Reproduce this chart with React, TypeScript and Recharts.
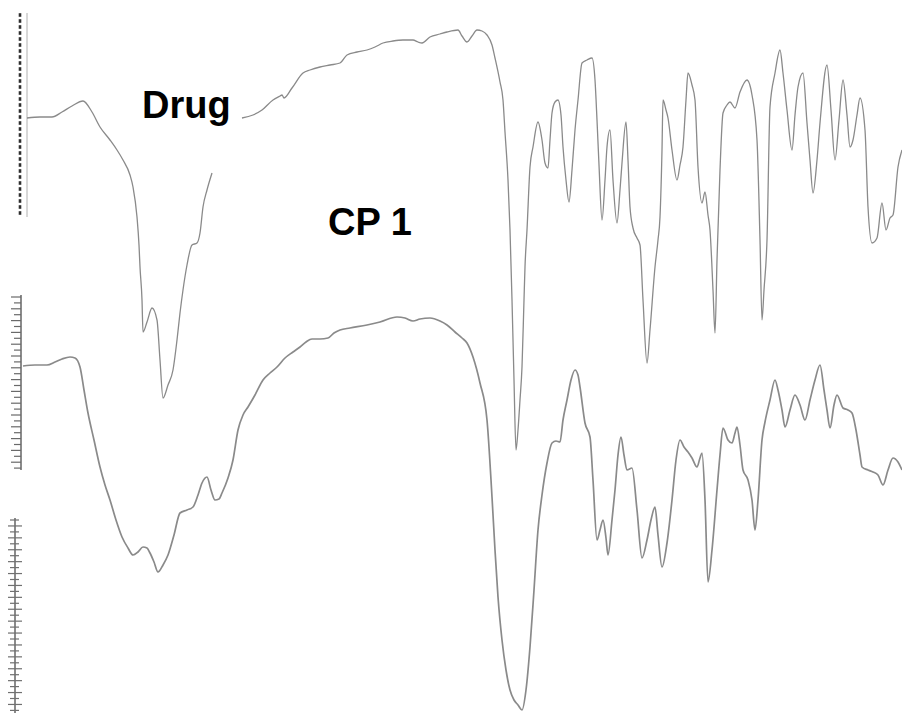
import React from 'react';
import { ComposedChart, Line, Scatter, XAxis, YAxis, ReferenceLine } from 'recharts';

// Drug spectrum (position along scan, signal depth; larger signal = lower on page)
const drugPos = [27, 40, 52, 62, 72, 83, 92, 100, 110, 117, 123, 130, 133, 137, 139, 140, 142, 143, 147, 152, 157, 160, 163, 168, 173, 177, 180, 183, 187, 192, 197, 200, 203, 207, 212,
  227,
  242, 253, 262, 273, 280, 282, 284, 292, 303, 310, 320, 330, 340, 347, 357, 367, 375, 383, 393, 403, 413, 418, 422, 430, 440, 447, 458, 462, 467, 472, 477, 482, 487, 492, 495, 500, 503, 505, 508, 510, 512, 514, 516, 518, 520, 522, 524, 525, 527, 530, 533, 538, 542, 545, 548, 550, 552, 555, 558, 561, 563, 566, 569, 572, 575, 578, 582, 587, 592, 595, 597, 599, 602, 605, 607, 610, 613, 617, 620, 622, 626, 628, 630, 633, 637, 640, 643, 647, 650, 655, 658, 660, 662, 663, 666, 668, 672, 677, 680, 683, 686, 688, 692, 695, 698, 702, 705, 708, 710, 713, 715, 717, 720, 723, 727, 730, 735, 740, 747, 752, 757, 760, 762, 764, 767, 770, 775, 780, 783, 787, 792, 795, 798, 803, 807, 810, 813, 817, 820, 827, 831, 835, 839, 843, 847, 850, 853, 857, 860, 865, 868, 872, 877, 882, 886, 890, 893, 898, 902];
const drugSignal: (number | null)[] = [118, 117, 117, 112, 106, 101, 112, 127, 140, 150, 160, 175, 187, 217, 245, 267, 300, 332, 322, 308, 320, 360, 398, 385, 370, 340, 313, 290, 265, 245, 243, 233, 207, 190, 173,
  null,
  118, 115, 110, 100, 96, 95, 98, 88, 73, 70, 67, 65, 63, 55, 52, 50, 47, 43, 41, 40, 40, 42, 43, 37, 34, 32, 30, 36, 42, 36, 30, 31, 35, 45, 58, 82, 100, 132, 180, 230, 300, 380, 450, 430, 400, 367, 300, 267, 230, 167, 147, 122, 140, 163, 168, 140, 113, 102, 100, 115, 147, 180, 202, 170, 130, 100, 63, 60, 58, 80, 120, 165, 220, 180, 147, 130, 180, 223, 190, 163, 122, 160, 207, 228, 238, 245, 300, 363, 330, 267, 240, 217, 150, 100, 110, 118, 150, 180, 165, 147, 100, 73, 85, 100, 167, 203, 192, 215, 230, 290, 333, 260, 170, 113, 105, 102, 108, 92, 80, 95, 140, 240, 320, 290, 240, 107, 73, 50, 73, 110, 150, 115, 87, 73, 123, 160, 193, 160, 123, 65, 110, 160, 120, 80, 115, 147, 140, 115, 98, 130, 207, 243, 238, 203, 230, 218, 215, 167, 150];

// CP 1 spectrum
const cpPos = [23, 35, 47, 55, 62, 70, 75, 80, 84, 88, 94, 100, 105, 110, 116, 122, 128, 133, 138, 143, 147, 150, 154, 158, 163, 168, 174, 180, 187, 193, 198, 202, 207, 211, 215, 219, 222, 228, 233, 238, 243, 248, 255, 263, 270, 277, 285, 293, 300, 306, 312, 320, 328, 334, 340, 350, 367, 380, 397, 405, 413, 420, 430, 440, 447, 455, 462, 467, 473, 480, 487, 492, 495, 498, 502, 506, 510, 514, 518, 522, 526, 530, 534, 538, 542, 547, 552, 556, 560, 563, 567, 571, 575, 578, 580, 585, 590, 593, 597, 600, 603, 606, 608, 612, 615, 618, 621, 624, 627, 632, 637, 642, 647, 651, 655, 658, 662, 667, 672, 676, 680, 684, 688, 692, 697, 700, 702, 705, 708, 712, 717, 720, 723, 728, 732, 735, 737, 740, 743, 748, 752, 755, 758, 762, 765, 770, 775, 778, 782, 785, 790, 795, 800, 805, 810, 815, 820, 824, 827, 830, 834, 837, 843, 848, 852, 856, 860, 862, 868, 873, 878, 883, 888, 893, 898, 902];
const cpSignal = [366, 365, 365, 362, 359, 357, 358, 367, 390, 413, 440, 467, 485, 500, 520, 537, 548, 555, 552, 547, 548, 553, 562, 572, 565, 555, 535, 513, 510, 507, 495, 483, 477, 490, 500, 499, 493, 478, 460, 430, 415, 407, 395, 380, 373, 367, 358, 352, 347, 342, 339, 339, 338, 333, 330, 328, 325, 322, 317, 318, 321, 319, 318, 321, 325, 332, 338, 343, 357, 383, 420, 497, 550, 597, 640, 670, 690, 700, 705, 710, 690, 647, 590, 530, 495, 463, 443, 441, 442, 420, 400, 380, 370, 375, 387, 423, 437, 480, 540, 530, 520, 538, 555, 520, 490, 455, 437, 455, 470, 468, 510, 558, 540, 520, 507, 535, 567, 543, 500, 460, 440, 447, 452, 458, 467, 458, 453, 500, 582, 550, 490, 455, 428, 440, 443, 433, 427, 445, 470, 480, 500, 530, 500, 440, 422, 400, 380, 390, 410, 427, 410, 395, 405, 420, 400, 380, 365, 390, 410, 428, 405, 395, 408, 410, 413, 430, 455, 467, 470, 472, 475, 485, 470, 458, 462, 470];

// Ruler tick marks on the left edge (positions along the signal axis)
const rulerTicksA = Array.from({ length: 34 }, (_, i) => 15 + i * 6);
const rulerTicksB = Array.from({ length: 30 }, (_, i) => 297 + i * 5.9);
const rulerTicksC = Array.from({ length: 33 }, (_, i) => 520 + i * 5.95);

const rulerAData = rulerTicksA.map((y) => ({ x: 20, y }));
const rulerBData = rulerTicksB.map((y, i) => ({ x: 17, y, long: i % 2 === 0 }));
const rulerCData = rulerTicksC.map((y, i) => ({ x: 15, y, long: i % 2 === 1 }));

const drugData = drugPos.map((x, i) => ({ x, y: drugSignal[i] }));
const cpData = cpPos.map((x, i) => ({ x, y: cpSignal[i] }));

const LINE = '#8a8a8a';

const DashMark = (props: any) => {
  const { cx, cy } = props;
  return <rect x={cx - 1.3} y={cy - 1.8} width={2.6} height={3.6} fill="#2e2e2e" />;
};
const TickB = (props: any) => {
  const { cx, cy, payload } = props;
  return <line x1={payload.long ? cx - 6 : cx - 3} x2={cx + 4} y1={cy} y2={cy} stroke="#6a6a6a" strokeWidth={1.2} />;
};
const TickC = (props: any) => {
  const { cx, cy, payload } = props;
  return <line x1={payload.long ? cx - 7 : cx - 5} x2={payload.long ? cx + 7 : cx + 4} y1={cy} y2={cy} stroke="#707070" strokeWidth={1.2} />;
};

export default function App() {
  return (
    <div style={{ position: 'absolute', left: 0, top: 0, width: 902, height: 713, background: '#fff' }}>
      <ComposedChart width={902} height={713} margin={{ top: 0, right: 0, bottom: 0, left: 0 }}>
        <XAxis type="number" dataKey="x" domain={[0, 902]} hide allowDataOverflow />
        <YAxis type="number" dataKey="y" domain={[0, 713]} reversed hide allowDataOverflow />
        <ReferenceLine segment={[{ x: 27, y: 13 }, { x: 27, y: 217 }]} stroke="#b0b0b0" strokeWidth={1} ifOverflow="visible" />
        <ReferenceLine segment={[{ x: 21, y: 295 }, { x: 21, y: 470 }]} stroke="#5a5a5a" strokeWidth={1.4} ifOverflow="visible" />
        <ReferenceLine segment={[{ x: 15, y: 518 }, { x: 15, y: 713 }]} stroke="#5a5a5a" strokeWidth={1.4} ifOverflow="visible" />
        <Scatter data={rulerAData} dataKey="y" shape={<DashMark />} isAnimationActive={false} />
        <Scatter data={rulerBData} dataKey="y" shape={<TickB />} isAnimationActive={false} />
        <Scatter data={rulerCData} dataKey="y" shape={<TickC />} isAnimationActive={false} />
        <Line data={drugData} dataKey="y" type="monotone" stroke={LINE} strokeWidth={1.3} dot={false} activeDot={false} connectNulls={false} isAnimationActive={false} />
        <Line data={cpData} dataKey="y" type="monotone" stroke={LINE} strokeWidth={1.7} dot={false} activeDot={false} isAnimationActive={false} />
      </ComposedChart>
      <svg width={902} height={713} style={{ position: 'absolute', left: 0, top: 0, pointerEvents: 'none' }}>
        <text x={142} y={118} fontFamily="'Liberation Sans', Arial, sans-serif" fontWeight="bold" fontSize={38} fill="#000">Drug</text>
        <text x={328} y={235} fontFamily="'Liberation Sans', Arial, sans-serif" fontWeight="bold" fontSize={38} fill="#000">CP 1</text>
      </svg>
    </div>
  );
}
